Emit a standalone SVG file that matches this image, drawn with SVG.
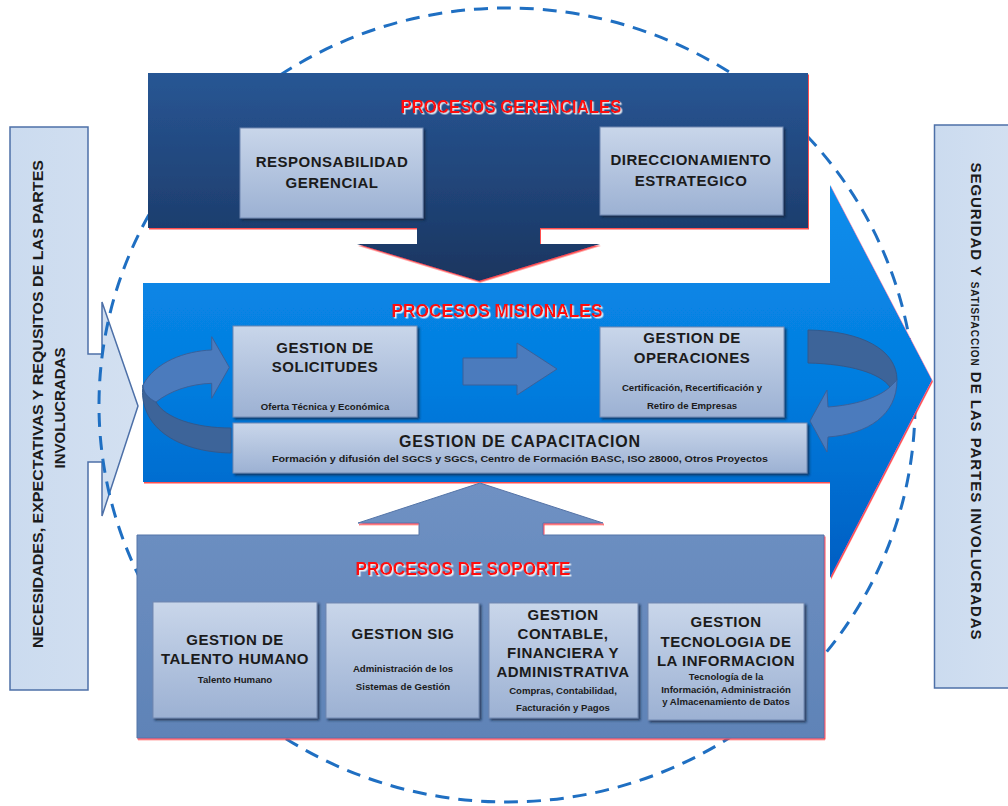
<svg xmlns="http://www.w3.org/2000/svg" width="1008" height="806" viewBox="0 0 1008 806">
<defs>
<linearGradient id="gNavy" gradientUnits="userSpaceOnUse" x1="0" y1="73" x2="0" y2="282">
<stop offset="0" stop-color="#285694"/><stop offset="0.7" stop-color="#1e3f70"/><stop offset="1" stop-color="#1a355f"/>
</linearGradient>
<linearGradient id="gBlue" gradientUnits="userSpaceOnUse" x1="0" y1="185" x2="0" y2="578">
<stop offset="0" stop-color="#0c8eec"/><stop offset="0.5" stop-color="#047ddf"/><stop offset="1" stop-color="#005ec2"/>
</linearGradient>
<linearGradient id="gSup" gradientUnits="userSpaceOnUse" x1="0" y1="483" x2="0" y2="738">
<stop offset="0" stop-color="#6f91c3"/><stop offset="1" stop-color="#5f83b7"/>
</linearGradient>
<linearGradient id="gLight" x1="0" y1="0" x2="0" y2="1">
<stop offset="0" stop-color="#c9d6ea"/><stop offset="1" stop-color="#9cb1d3"/>
</linearGradient>
<linearGradient id="gSide" x1="0" y1="0" x2="1" y2="0">
<stop offset="0" stop-color="#cbdbef"/><stop offset="1" stop-color="#d3e0f1"/>
</linearGradient>
<filter id="sh" x="-10%" y="-10%" width="125%" height="130%">
<feDropShadow dx="2" dy="2" stdDeviation="1.2" flood-color="#14233d" flood-opacity="0.7"/>
</filter>
<filter id="red" x="-5%" y="-5%" width="110%" height="110%">
<feDropShadow dx="1" dy="1.5" stdDeviation="0.4" flood-color="#ff3b3b" flood-opacity="0.9"/>
</filter>
<filter id="glow" x="-10%" y="-30%" width="120%" height="160%">
<feDropShadow dx="1.5" dy="1.5" stdDeviation="0.7" flood-color="#ffffff" flood-opacity="0.85"/>
</filter>
<style>
.lb{fill:url(#gLight);stroke:#7088b2;stroke-width:1;filter:url(#sh);}
.t{font-family:"Liberation Sans",Arial,sans-serif;font-weight:bold;fill:#1b1b1b;text-anchor:middle;}
.h{font-size:15px;letter-spacing:0.5px;}
.s{font-size:9.6px;}
.title{font-family:"Liberation Sans Narrow","Liberation Sans",Arial,sans-serif;font-weight:bold;font-size:18px;fill:#ff0a0a;text-anchor:middle;filter:url(#glow);}
.side{fill:url(#gSide);stroke:#4d70a8;stroke-width:1.5;}
.cb{fill:#3d6499;stroke:#33598c;stroke-width:1;}
.cf{fill:#4b7bbd;stroke:#3a619a;stroke-width:1;}
</style>
</defs>
<rect width="1008" height="806" fill="#ffffff"/>

<g id="side-input">
<path class="side" d="M10,127 L88,127 L88,354 L102,354 L102,302 L138,406 L102,516 L102,462 L88,462 L88,690 L10,690 Z"/>
<text class="t" font-size="15" transform="translate(43,404) rotate(-90)" textLength="488" lengthAdjust="spacingAndGlyphs">NECESIDADES, EXPECTATIVAS Y REQUSITOS DE LAS PARTES</text>
<text class="t" font-size="15" transform="translate(65,408) rotate(-90)">INVOLUCRADAS</text>
</g>

<g id="side-output">
<rect class="side" x="934.5" y="125" width="80" height="563"/>
<text class="t" font-size="15" transform="translate(971,401) rotate(90)" textLength="477" lengthAdjust="spacing">SEGURIDAD Y <tspan font-size="10">SATISFACCION</tspan> DE LAS PARTES INVOLUCRADAS</text>
</g>

<g id="boundary">
<ellipse cx="507" cy="405" rx="408" ry="397" fill="none" stroke="#1f6fc2" stroke-width="3" stroke-dasharray="14 9"/>
</g>

<g id="procesos-misionales">
<path d="M143,283 L830,283 L830,185 L932,380 L830,578 L830,482 L143,482 Z" fill="url(#gBlue)" filter="url(#red)"/>
<text class="title" x="497" y="317" textLength="211" lengthAdjust="spacingAndGlyphs">PROCESOS MISIONALES</text>
</g>

<g id="procesos-gerenciales">
<path d="M148,73 L808,73 L808,228 L540,228 L540,244 L600,244 L479,281 L357,244 L417,244 L417,228 L148,228 Z" fill="url(#gNavy)" filter="url(#red)"/>
<text class="title" x="511" y="113" textLength="221" lengthAdjust="spacingAndGlyphs">PROCESOS GERENCIALES</text>
</g>

<g id="procesos-soporte">
<path d="M137,535 L419,535 L419,523 L358,523 L480,483 L603,523 L543,523 L543,535 L824,535 L824,738 L137,738 Z" fill="url(#gSup)" stroke="#5475a8" stroke-width="1" filter="url(#red)"/>
<text class="title" x="463" y="575" textLength="215" lengthAdjust="spacingAndGlyphs">PROCESOS DE SOPORTE</text>
</g>

<g id="connectors">
<path class="cb" d="M143,385 C138,425 175,452 231,453 L231,428 C195,428 165,418 156,402 C148,398 143,392 143,385 Z"/>
<path class="cf" d="M211.7,350 C185,351 155,362 143,385 C143,392 148,398 156,402 C170,391 190,384 211.7,383.3 L211.7,398.3 L229.3,367.3 L211.7,336.7 Z"/>
<path class="cf" d="M463,358 L517,358 L517,343 L557,369 L517,395 L517,385 L463,385 Z"/>
<path class="cb" d="M808,330 C862,331 897,350 897,380 C894,383 892,385 890,387 C880,373 850,364 808,363 Z"/>
<path class="cf" d="M890,387 C878,398 855,405 828,407 L827,390 L810,421 L827,452 L828,437 C868,434 897,415 897,380 Z"/>
</g>

<g id="responsabilidad-gerencial">
<rect class="lb" x="240" y="128" width="183" height="90"/>
<text class="t h" x="332" y="167">RESPONSABILIDAD</text>
<text class="t h" x="332" y="188">GERENCIAL</text>
</g>
<g id="direccionamiento-estrategico">
<rect class="lb" x="600" y="127" width="183" height="88"/>
<text class="t h" x="691" y="165">DIRECCIONAMIENTO</text>
<text class="t h" x="691" y="186">ESTRATEGICO</text>
</g>

<g id="gestion-solicitudes">
<rect class="lb" x="233" y="326" width="184" height="91"/>
<text class="t h" x="325" y="353" letter-spacing="1">GESTION DE</text>
<text class="t h" x="325" y="372" letter-spacing="1">SOLICITUDES</text>
<text class="t s" x="325" y="410">Oferta Técnica y Económica</text>
</g>
<g id="gestion-operaciones">
<rect class="lb" x="600" y="327" width="184" height="90"/>
<text class="t h" x="692" y="343" letter-spacing="1">GESTION DE</text>
<text class="t h" x="692" y="363" letter-spacing="1">OPERACIONES</text>
<text class="t s" x="692" y="391">Certificación, Recertificación y</text>
<text class="t s" x="692" y="409">Retiro de Empresas</text>
</g>
<g id="gestion-capacitacion">
<rect class="lb" x="233" y="423" width="574" height="50"/>
<text class="t" font-size="16" x="520" y="447" letter-spacing="0.8">GESTION DE CAPACITACION</text>
<text class="t s" x="520" y="462" textLength="496" lengthAdjust="spacingAndGlyphs">Formación y difusión del SGCS y SGCS, Centro de Formación BASC, ISO 28000, Otros Proyectos</text>
</g>

<g id="gestion-talento-humano">
<rect class="lb" x="153" y="602" width="164" height="116"/>
<text class="t h" x="235" y="645">GESTION DE</text>
<text class="t h" x="235" y="664">TALENTO HUMANO</text>
<text class="t s" x="235" y="683">Talento Humano</text>
</g>
<g id="gestion-sig">
<rect class="lb" x="326" y="603" width="153" height="115"/>
<text class="t h" x="403" y="639">GESTION SIG</text>
<text class="t s" x="403" y="672">Administración de los</text>
<text class="t s" x="403" y="690">Sistemas de Gestión</text>
</g>
<g id="gestion-contable">
<rect class="lb" x="489" y="603" width="149" height="115"/>
<text class="t h" x="563" y="620">GESTION</text>
<text class="t h" x="563" y="639">CONTABLE,</text>
<text class="t h" x="563" y="658">FINANCIERA Y</text>
<text class="t h" x="563" y="677">ADMINISTRATIVA</text>
<text class="t s" x="563" y="694">Compras, Contabilidad,</text>
<text class="t s" x="563" y="711">Facturación y Pagos</text>
</g>
<g id="gestion-tecnologia">
<rect class="lb" x="648" y="603" width="156" height="117"/>
<text class="t h" x="726" y="627">GESTION</text>
<text class="t h" x="726" y="647">TECNOLOGIA DE</text>
<text class="t h" x="726" y="666">LA INFORMACION</text>
<text class="t s" x="726" y="680">Tecnología de la</text>
<text class="t s" x="726" y="693">Información, Administración</text>
<text class="t s" x="726" y="705">y Almacenamiento de Datos</text>
</g>
</svg>
